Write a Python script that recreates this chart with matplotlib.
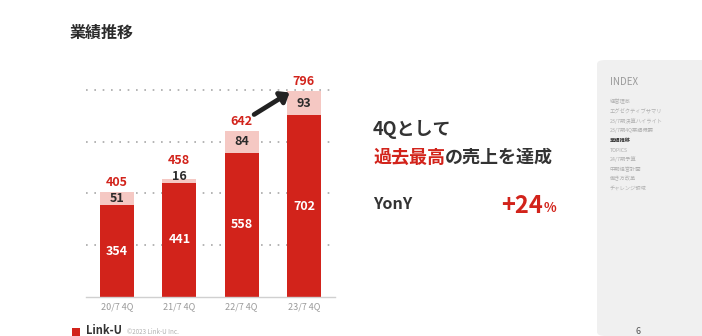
import matplotlib
matplotlib.use("Agg")
import matplotlib.pyplot as plt
from matplotlib.patches import FancyBboxPatch, Rectangle

plt.rcParams['font.family'] = ['Noto Sans CJK JP', 'DejaVu Sans']

# ---- data ----
categories = ["20/7 4Q", "21/7 4Q", "22/7 4Q", "23/7 4Q"]
base_values = [354, 441, 558, 702]
extra_values = [51, 16, 84, 93]
total_labels = [405, 458, 642, 796]
grid_values = [200, 400, 600, 800]
menu_items = ["経営理念", "エグゼクティブサマリ", "23/7期決算ハイライト", "23/7期4Q業績概要",
              "業績推移", "TOPICS", "24/7期予算", "中期経営計画", "働き方改革", "チャレンジ領域"]
active_item = "業績推移"

W, H = 702, 336
RED = "#d2231b"
PINK = "#f5c8c3"
DARK = "#2b2b2b"

fig = plt.figure(figsize=(W / 100, H / 100), dpi=100)
fig.patch.set_facecolor("white")

def fx(x):
    return x / W

def fy(y):
    return 1 - y / H

# ---- chart axes ----
ax_left, ax_right, ax_top, ax_bottom = 86, 335, 77, 297
ax = fig.add_axes([fx(ax_left), fy(ax_bottom), (ax_right - ax_left) / W, (ax_bottom - ax_top) / H])
ax.set_xlim(-0.5, len(categories) - 0.5)
ax.set_ylim(0, 850)
for s in ["top", "right", "left"]:
    ax.spines[s].set_visible(False)
ax.spines["bottom"].set_color("#d0d0d0")
ax.spines["bottom"].set_linewidth(1.0)
ax.set_yticks([])
ax.set_xticks(range(len(categories)))
ax.set_xticklabels(categories, fontsize=6.5, color="#9a9a9a")
ax.tick_params(axis="x", length=0, pad=4)
for g in grid_values:
    ax.axhline(g, color="#a8a8a8", lw=1.2, ls=(0, (1, 4)), zorder=0)

x = list(range(len(categories)))
bw = 0.55
ax.bar(x, base_values, width=bw, color=RED, zorder=2)
ax.bar(x, extra_values, width=bw, bottom=base_values, color=PINK, zorder=2)

min_seg = 50  # minimum visual room for a segment label
for i in x:
    ax.text(i, base_values[i] / 2, str(base_values[i]), ha="center", va="center",
            color="white", fontsize=9, fontweight="bold")
    ax.text(i, base_values[i] + max(extra_values[i], min_seg) / 2, str(extra_values[i]),
            ha="center", va="center", color=DARK, fontsize=9, fontweight="bold")
    top = base_values[i] + max(extra_values[i], min_seg)
    ax.annotate(str(total_labels[i]), (i, top), xytext=(0, 2),
                textcoords="offset points", ha="center", va="bottom",
                color=RED, fontsize=9, fontweight="bold")

ax.annotate("", xy=(2.77, 790), xytext=(2.2, 705),
            arrowprops=dict(arrowstyle="-|>,head_length=0.5,head_width=0.4", lw=3.4,
                            color="#222222", shrinkA=0, shrinkB=0), zorder=5)

# ---- title ----
fig.text(fx(70), fy(33), "業績推移", fontsize=11.5, fontweight="bold", color=DARK, va="center")

# ---- right message ----
fig.text(fx(373), fy(129), "4Qとして", fontsize=13, fontweight="bold", color="#333333", va="center")
t1 = fig.text(fx(373), fy(157), "過去最高", fontsize=13, fontweight="bold", color=RED, va="center")
fig.canvas.draw()
r = fig.canvas.get_renderer()
bb = t1.get_window_extent(r)
fig.text(bb.x1 / W, fy(157), "の売上を達成", fontsize=13, fontweight="bold", color="#333333", va="center")
fig.text(fx(373), fy(204), "YonY", fontsize=11.5, fontweight="bold", color="#333333", va="center")
t2 = fig.text(fx(501), fy(206), "+24", fontsize=17, fontweight="bold", color=RED, va="center")
bb2 = t2.get_window_extent(r)
fig.text(bb2.x1 / W + 0.001, fy(208), "%", fontsize=9.5, fontweight="bold", color=RED, va="center")

# ---- sidebar ----
side = FancyBboxPatch((fx(597), 0), 0.2, fy(60), boxstyle="round,pad=0,rounding_size=0.012",
                      transform=fig.transFigure, facecolor="#f0f0f0", edgecolor="none")
fig.patches.append(side)
fig.text(fx(610), fy(82), "INDEX", fontsize=7, color="#9a9a9a", va="center")
for k, item in enumerate(menu_items):
    yy = 102 + k * 9.6
    if item == active_item:
        fig.text(fx(610), fy(yy), item, fontsize=3.8, fontweight="bold", color="#333333", va="center")
    else:
        fig.text(fx(610), fy(yy), item, fontsize=3.8, color="#b0b0b0", va="center")
fig.text(fx(638), fy(332), "6", fontsize=6.5, color="#555555", ha="center", va="center")

# ---- footer logo ----
fig.patches.append(Rectangle((fx(72), fy(336)), (80 - 72) / W, (336 - 328) / H,
                             transform=fig.transFigure, facecolor=RED, edgecolor="none"))
fig.text(fx(86), fy(331), "Link-U", fontsize=8, fontweight="bold", color="#333333", va="center")
fig.text(fx(127), fy(332), "©2023 Link-U Inc.", fontsize=4.5, color="#b0b0b0", va="center")

fig.savefig("out.png", dpi=100)
